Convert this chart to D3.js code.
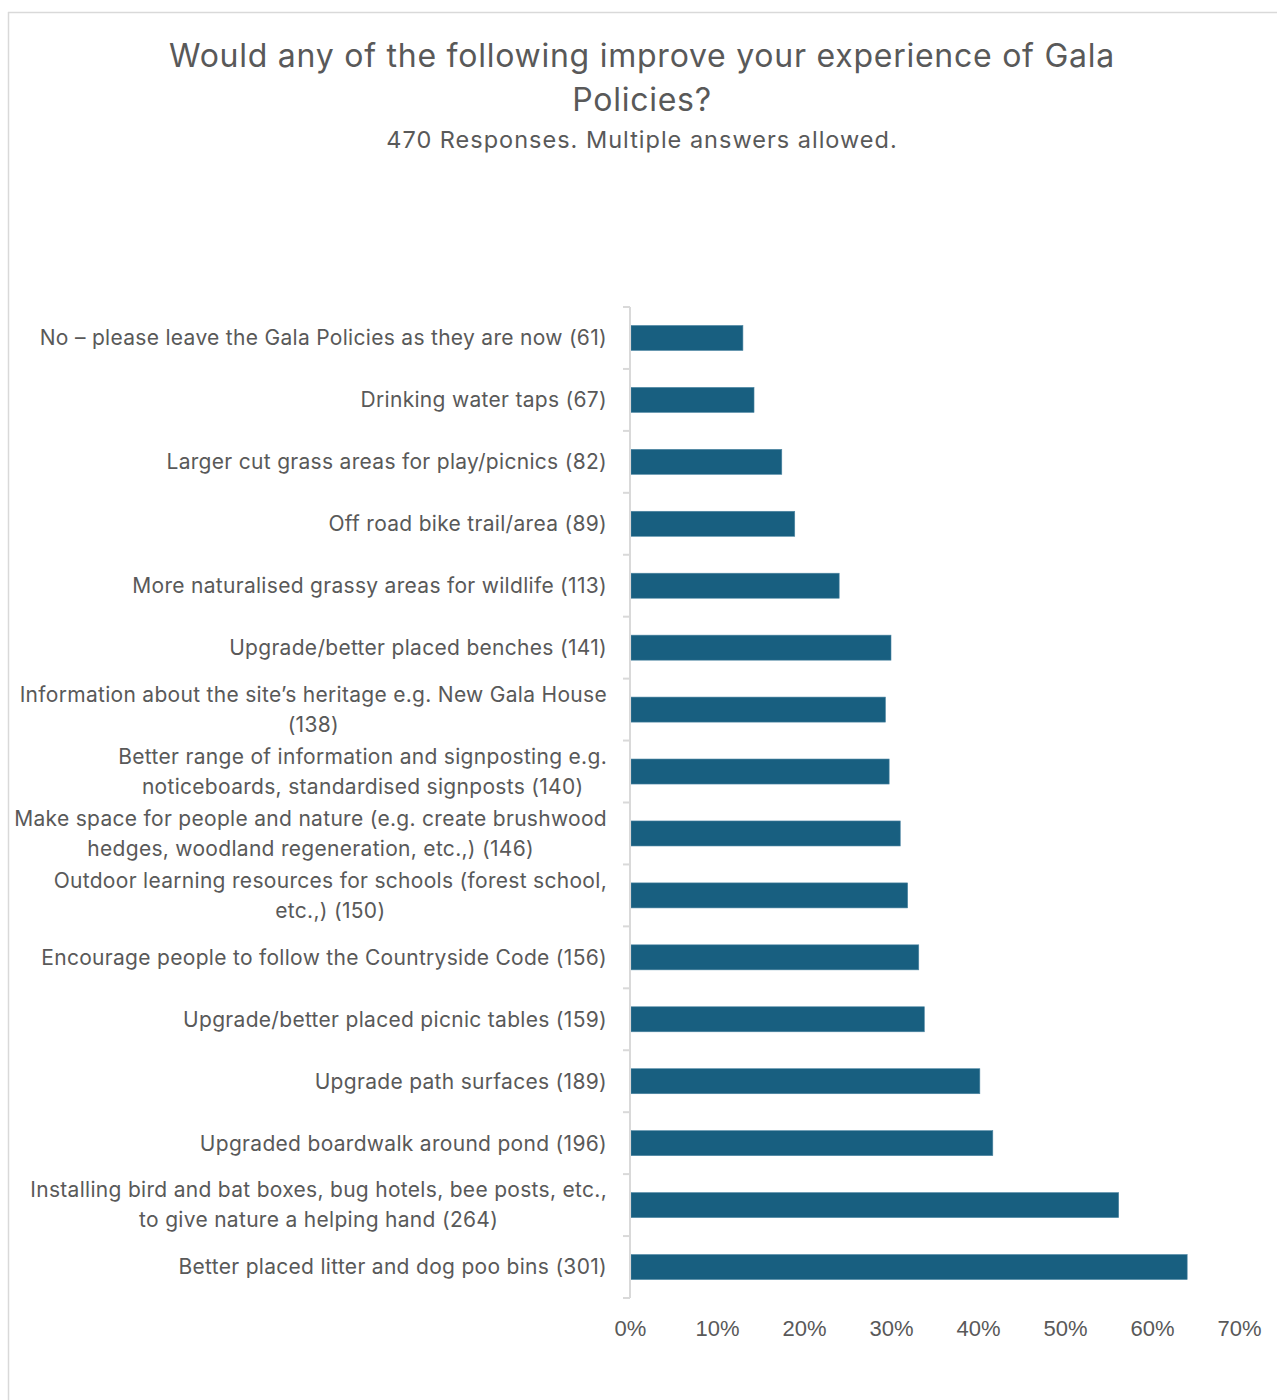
<!DOCTYPE html>
<html>
<head>
<meta charset="utf-8">
<script src="https://cdn.jsdelivr.net/npm/d3@7"></script>
<style>
  body { margin: 0; background: #fff; }
  svg { display: block; }
</style>
</head>
<body>
<svg id="chart" width="1277" height="1400"></svg>
<script>
const totalResponses = 470;
const titleLines = ["Would any of the following improve your experience of Gala", "Policies?"];
const subtitle = "470 Responses. Multiple answers allowed.";
const categories = [
  ["No \u2013 please leave the Gala Policies as they are now (61)"],
  ["Drinking water taps (67)"],
  ["Larger cut grass areas for play/picnics (82)"],
  ["Off road bike trail/area (89)"],
  ["More naturalised grassy areas for wildlife (113)"],
  ["Upgrade/better placed benches (141)"],
  ["Information about the site\u2019s heritage e.g. New Gala House", "(138)"],
  ["Better range of information and signposting e.g.", "noticeboards, standardised signposts (140)"],
  ["Make space for people and nature (e.g. create brushwood", "hedges, woodland regeneration, etc.,) (146)"],
  ["Outdoor learning resources for schools (forest school,", "etc.,)  (150)"],
  ["Encourage people to follow the Countryside Code (156)"],
  ["Upgrade/better placed picnic tables (159)"],
  ["Upgrade path surfaces (189)"],
  ["Upgraded boardwalk around pond (196)"],
  ["Installing bird and bat boxes, bug hotels, bee posts, etc.,", "to give nature a helping hand (264)"],
  ["Better placed litter and dog poo bins (301)"]
];
const counts = [61, 67, 82, 89, 113, 141, 138, 140, 146, 150, 156, 159, 189, 196, 264, 301];
const xTicks = [0, 0.1, 0.2, 0.3, 0.4, 0.5, 0.6, 0.7];

const svg = d3.select("#chart");
const textColor = "#595959";
const gridColor = "#d9d9d9";
const barColor = "#185f80";

// frame
svg.append("line").attr("x1", 8).attr("x2", 1277).attr("y1", 12.5).attr("y2", 12.5).attr("stroke", gridColor).attr("stroke-width", 1.5);
svg.append("line").attr("x1", 8.5).attr("x2", 8.5).attr("y1", 12).attr("y2", 1400).attr("stroke", gridColor).attr("stroke-width", 1.5);

// title
const font = "Inter, 'Open Sans', sans-serif";
svg.append("g").selectAll("text").data(titleLines).join("text")
  .attr("x", 642).attr("y", (d, i) => 67 + i * 44)
  .attr("text-anchor", "middle").attr("font-family", font).attr("font-size", 32)
  .attr("letter-spacing", 0.75)
  .attr("fill", textColor).text(d => d);
svg.append("text").attr("x", 642).attr("y", 148).attr("text-anchor", "middle")
  .attr("font-family", font).attr("font-size", 23.5).attr("letter-spacing", 1.0)
  .attr("fill", textColor).text(subtitle);

const idx = d3.range(categories.length);
const x = d3.scaleLinear().domain([0, 0.7]).range([630, 1239]);
const pad = 0.596;
const y = d3.scaleBand().domain(idx).range([307, 1298]).paddingInner(pad).paddingOuter(pad / 2);
const step = y.step();

// bars
svg.append("g").selectAll("rect").data(idx).join("rect")
  .attr("x", x(0) + 1)
  .attr("y", i => y(i))
  .attr("width", i => x(counts[i] / totalResponses) - x(0) - 1)
  .attr("height", y.bandwidth())
  .attr("fill", barColor)
  .attr("stroke", "#4f87a3").attr("stroke-width", 0.6);

// y axis line and ticks at band boundaries
const axisG = svg.append("g");
axisG.append("line").attr("x1", 630).attr("x2", 630).attr("y1", 307).attr("y2", 1298)
  .attr("stroke", gridColor).attr("stroke-width", 2);
const bounds = d3.range(categories.length + 1).map(k => 307 + k * step);
axisG.selectAll("line.tick").data(bounds).join("line").attr("class", "tick")
  .attr("x1", 623).attr("x2", 630).attr("y1", d => d).attr("y2", d => d)
  .attr("stroke", gridColor).attr("stroke-width", 2);

// category labels
const labSize = 21;
const labLS = 0.3;
const labG = svg.append("g");
idx.forEach(i => {
  const lines = categories[i];
  const cy = y(i) + y.bandwidth() / 2;
  const lineH = 30;
  const t = labG.append("text").attr("font-family", font).attr("font-size", labSize)
    .attr("letter-spacing", labLS).attr("fill", textColor);
  const widths = lines.map(l => {
    const s = labG.append("text").attr("font-family", font).attr("font-size", labSize)
      .attr("letter-spacing", labLS).text(l);
    const w = s.node().getComputedTextLength();
    s.remove();
    return w;
  });
  const blockW = d3.max(widths);
  const centerX = 607 - blockW / 2;
  lines.forEach((l, k) => {
    t.append("tspan")
      .attr("x", centerX)
      .attr("y", cy + (k - (lines.length - 1) / 2) * lineH)
      .attr("dy", "0.35em")
      .attr("text-anchor", "middle")
      .text(l);
  });
});

// x axis labels
const xAxis = d3.axisBottom(x).tickValues(xTicks).tickFormat(d3.format(".0%")).tickSize(0).tickPadding(0);
const xg = svg.append("g").attr("transform", "translate(0,1320)").call(xAxis);
xg.select(".domain").remove();
xg.selectAll("text").attr("font-family", "'Liberation Sans', Arial, sans-serif").attr("font-size", 22)
  .attr("fill", textColor).attr("dy", "0.71em");
</script>
</body>
</html>
